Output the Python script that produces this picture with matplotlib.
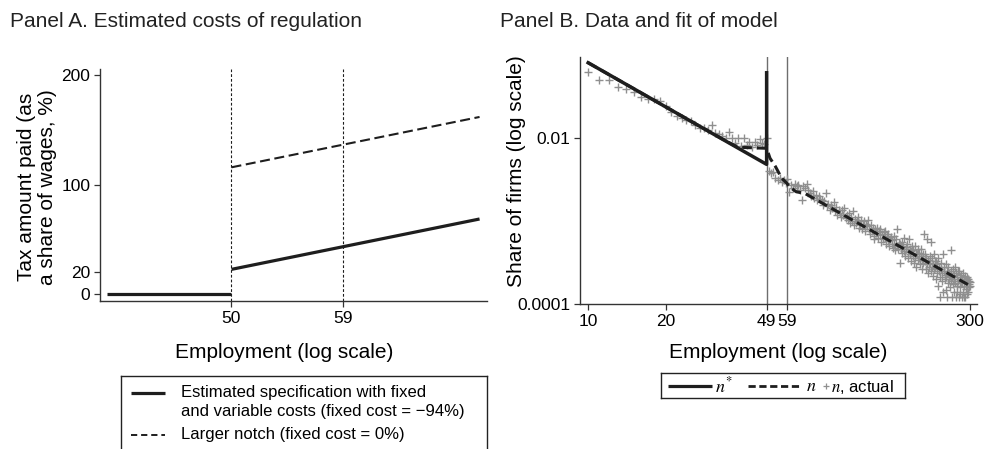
import numpy as np
import matplotlib
matplotlib.use("Agg")
import matplotlib.pyplot as plt
from matplotlib.ticker import NullLocator, FixedLocator, FixedFormatter

plt.rcParams['font.family'] = ['Liberation Sans', 'DejaVu Sans']
plt.rcParams['mathtext.fontset'] = 'stix'

# ---- Panel A: estimated costs of regulation (tax as % of wages) ----
a_zero_emp = [40, 50]
a_zero_tax = [0, 0]
a_emp = [50, 59, 70]
a_fixed_var = [22.5, 43.2, 68.5]
a_larger_notch = [115.7, 136.4, 161.7]
a_thresholds = [50, 59]

# ---- Panel B: data and fit of model (log10 share of firms) ----
b_nstar_emp = [10, 49, 49]
b_nstar_log = [-1.087, -2.314, -1.208]
b_n_emp = [10, 20, 30, 34, 37, 40, 49, 50.5, 53, 56, 58.6, 60, 63.8, 68.9, 300]
b_n_log = [-1.087, -1.622, -1.935, -2.03, -2.09, -2.11, -2.12, -2.24, -2.34,
           -2.48, -2.54, -2.585, -2.645, -2.665, -3.78]
b_thresholds = [49, 59]
b_xticks = [10, 20, 49, 59, 300]

b_actual_emp = list(range(10, 301))
b_actual_log = [
    -1.20, -1.30, -1.30, -1.38, -1.40, -1.44, -1.50, -1.52, -1.53, -1.55,   # 10-19
    -1.61, -1.68, -1.73, -1.75, -1.78, -1.79, -1.84, -1.87, -1.88, -1.90,   # 20-29
    -1.84, -1.93, -1.95, -1.97, -2.00, -1.92, -1.99, -2.06, -2.00, -2.09,   # 30-39
    -2.00, -2.08, -2.05, -2.10, -2.04, -2.08, -2.01, -2.06, -2.07, -2.00,   # 40-49
    -2.40, -2.42, -2.41, -2.48, -2.50, -2.48, -2.53, -2.50, -2.54, -2.49,   # 50-59
    -2.65, -2.56, -2.60, -2.55, -2.58, -2.56, -2.62, -2.75, -2.57, -2.60,   # 60-69
    -2.55, -2.62, -2.66, -2.70, -2.64, -2.72, -2.68, -2.75, -2.70, -2.73,   # 70-79
    -2.74, -2.80, -2.76, -2.66, -2.82, -2.79, -2.86, -2.80, -2.84, -2.77,   # 80-89
    -2.88, -2.83, -2.92, -2.86, -2.90, -2.95, -2.87, -2.93, -2.84, -2.96,   # 90-99
    -2.92, -2.98, -2.90, -3.02, -2.95, -3.00, -2.88, -3.05, -2.97, -3.02,   # 100-109
    -3.00, -2.95, -3.08, -3.03, -2.98, -3.10, -3.05, -3.00, -3.12, -3.04,   # 110-119
    -3.06, -2.98, -3.10, -3.15, -3.05, -3.12, -3.08, -3.18, -3.22, -3.10,   # 120-129
    -3.14, -3.08, -3.20, -3.12, -3.17, -3.10, -3.25, -3.15, -3.22, -3.13,   # 130-139
    -3.20, -3.12, -3.28, -3.18, -3.24, -3.15, -3.30, -3.22, -3.19, -3.27,   # 140-149
    -3.23, -3.32, -3.18, -3.28, -3.35, -3.22, -3.30, -3.10, -3.33, -3.26,   # 150-159
    -3.28, -3.50, -3.33, -3.25, -3.38, -3.30, -3.20, -3.36, -3.42, -3.31,   # 160-169
    -3.34, -3.28, -3.45, -3.37, -3.22, -3.40, -3.33, -3.48, -3.36, -3.30,   # 170-179
    -3.42, -3.35, -3.50, -3.30, -3.44, -3.38, -3.55, -3.40, -3.34, -3.47,   # 180-189
    -3.45, -3.38, -3.52, -3.42, -3.33, -3.58, -3.46, -3.40, -3.50, -3.15,   # 190-199
    -3.48, -3.40, -3.58, -3.45, -3.52, -3.22, -3.62, -3.47, -3.55, -3.42,   # 200-209
    -3.50, -3.60, -3.25, -3.55, -3.45, -3.66, -3.52, -3.40, -3.58, -3.48,   # 210-219
    -3.56, -3.70, -3.48, -3.62, -3.52, -3.78, -3.45, -3.60, -3.55, -3.68,   # 220-229
    -3.91, -3.58, -3.50, -3.72, -3.62, -3.40, -3.85, -3.60, -3.55, -3.70,   # 230-239
    -3.65, -3.83, -3.52, -3.68, -3.91, -3.60, -3.75, -3.55, -3.70, -3.62,   # 240-249
    -3.66, -3.80, -3.35, -3.72, -3.60, -3.91, -3.68, -3.58, -3.76, -3.65,   # 250-259
    -3.70, -3.85, -3.55, -3.75, -3.91, -3.62, -3.78, -3.68, -3.85, -3.60,   # 260-269
    -3.72, -3.91, -3.60, -3.80, -3.68, -3.88, -3.65, -3.75, -3.91, -3.70,   # 270-279
    -3.74, -3.62, -3.85, -3.70, -3.91, -3.78, -3.66, -3.91, -3.72, -3.82,   # 280-289
    -3.75, -3.68, -3.88, -3.78, -3.70, -3.85, -3.72, -3.80, -3.76, -3.74,   # 290-299
    -3.78,                                                                  # 300
]

LINE = '#1e1e1e'
GRAY = '#8f8f8f'
W, H = 985, 449

fig = plt.figure(figsize=(W / 100, H / 100), dpi=100)


def px_box(x0, y0, x1, y1):
    """axes rect from pixel corners (top-left origin)"""
    return [x0 / W, 1 - y1 / H, (x1 - x0) / W, (y1 - y0) / H]


def style_axes(ax):
    for s in ['top', 'right']:
        ax.spines[s].set_visible(False)
    for s in ['left', 'bottom']:
        ax.spines[s].set_linewidth(1.0)
        ax.spines[s].set_color('#333333')
    ax.tick_params(direction='out', length=4, width=0.9, labelsize=12.5,
                   color='#333333', pad=3)


def legend_box(x0, y0, x1, y1):
    """blank axes in pixel coords used as a hand-made legend frame"""
    ax = fig.add_axes(px_box(x0, y0, x1, y1))
    ax.set_xlim(x0, x1)
    ax.set_ylim(y1, y0)
    ax.set_xticks([])
    ax.set_yticks([])
    for s in ax.spines.values():
        s.set_linewidth(1.0)
        s.set_color('#222222')
    return ax


# ---------------- Panel A ----------------
axA = fig.add_axes(px_box(100, 69, 487, 301))
style_axes(axA)
for t in a_thresholds:
    axA.axvline(t, color=LINE, lw=0.8, ls=(0, (2.5, 1.8)), zorder=1)
axA.plot(a_zero_emp, a_zero_tax, color=LINE, lw=2.3, solid_capstyle='butt')
axA.plot(a_emp, a_fixed_var, color=LINE, lw=2.3, solid_capstyle='butt')
axA.plot(a_emp, a_larger_notch, color=LINE, lw=1.5, ls=(0, (4.8, 2.2)))
axA.set_xlim(39.4, 70.6)
axA.set_ylim(-6.4, 205.5)
axA.set_xticks(a_thresholds)
axA.set_xticklabels([str(t) for t in a_thresholds])
axA.set_yticks([0, 20, 100, 200])
axA.set_ylabel('Tax amount paid (as\na share of wages, %)', fontsize=15,
               linespacing=1.15)
axA.yaxis.set_label_coords(-0.111, 0.49)
axA.set_xlabel('Employment (log scale)', fontsize=15)
axA.xaxis.set_label_coords(0.475, -0.181)

# ---------------- Panel B ----------------
axB = fig.add_axes(px_box(580, 57, 977, 304))
style_axes(axB)
axB.set_xscale('log')
axB.set_yscale('log')
for t in b_thresholds:
    axB.axvline(t, color='#6e6e6e', lw=1.0, zorder=1)
axB.plot(b_actual_emp, np.power(10.0, b_actual_log), ls='none', marker='+',
         ms=6, mew=1.0, color=GRAY, zorder=2)
axB.plot(b_n_emp, np.power(10.0, b_n_log), color=LINE, lw=2.2,
         ls=(0, (3.2, 1.6)), zorder=3)
axB.plot(b_nstar_emp, np.power(10.0, b_nstar_log), color=LINE, lw=2.5,
         zorder=4)
axB.set_xlim(9.3, 319)
axB.set_ylim(1e-4, 0.096)
axB.xaxis.set_major_locator(FixedLocator(b_xticks))
axB.xaxis.set_major_formatter(FixedFormatter([str(t) for t in b_xticks]))
axB.xaxis.set_minor_locator(NullLocator())
axB.yaxis.set_major_locator(FixedLocator([1e-4, 1e-2]))
axB.yaxis.set_major_formatter(FixedFormatter(['0.0001', '0.01']))
axB.yaxis.set_minor_locator(NullLocator())
axB.set_ylabel('Share of firms (log scale)', fontsize=15)
axB.yaxis.set_label_coords(-0.136, 0.536)
axB.set_xlabel('Employment (log scale)', fontsize=15)
axB.xaxis.set_label_coords(0.5, -0.158)

# ---------------- Panel B legend ----------------
lgB = legend_box(661, 373, 905, 398)
yc = 385.5
lgB.plot([668, 712], [yc, yc], color=LINE, lw=2.3, solid_capstyle='butt')
lgB.text(715, yc + 1, r'$n^{*}$', fontsize=13, va='center', ha='left')
lgB.plot([748, 800], [yc, yc], color=LINE, lw=2.0, ls=(0, (2.6, 1.3)))
lgB.text(806, yc + 1, r'$n$', fontsize=13, va='center', ha='left')
lgB.plot([826], [yc], ls='none', marker='+', ms=5, mew=0.9, color=GRAY)
lgB.text(831, yc + 1, r'$n$, actual', fontsize=12, va='center', ha='left')

# ---------------- Panel A legend (box runs off the bottom) ----------------
lgA = legend_box(121, 376, 487, 470)
lgA.plot([131, 165], [393, 393], color=LINE, lw=2.3, solid_capstyle='butt')
lgA.plot([131, 165], [435, 435], color=LINE, lw=1.4, ls=(0, (3.2, 2.0)))
lgA.text(181, 402, 'Estimated specification with fixed\n'
         'and variable costs (fixed cost = \u221294%)',
         fontsize=12, va='center', ha='left', linespacing=1.3)
lgA.text(181, 435, 'Larger notch (fixed cost = 0%)', fontsize=12,
         va='center', ha='left')

# ---------------- titles ----------------
fig.text(10 / W, 1 - 27 / H, 'Panel A. Estimated costs of regulation',
         fontsize=15, va='baseline', ha='left', color='#222222')
fig.text(500 / W, 1 - 27 / H, 'Panel B. Data and fit of model',
         fontsize=15, va='baseline', ha='left', color='#222222')

fig.savefig('out.png', dpi=100)
